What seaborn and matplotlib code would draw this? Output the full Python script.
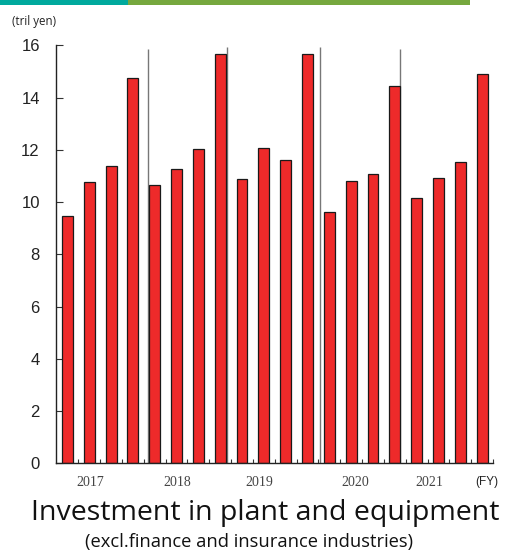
import matplotlib
matplotlib.use("Agg")
import matplotlib.pyplot as plt
import seaborn as sns
import pandas as pd
from matplotlib.patches import Rectangle

# ---- data ----
quarters = [f"{y}Q{q}" for y in [2017, 2018, 2019, 2020, 2021] for q in [1, 2, 3, 4]]
values = [9.45, 10.78, 11.39, 14.76,
          10.65, 11.27, 12.04, 15.66,
          10.87, 12.07, 11.61, 15.68,
          9.63, 10.79, 11.06, 14.45,
          10.14, 10.91, 11.54, 14.89]
year_labels = ["2017", "2018", "2019", "2020", "2021"]
year_label_pos = [1.05, 5.04, 8.77, 13.21, 16.59]
sep_pos = [3.71, 7.32, 11.58, 15.26]
sep_top = [15.85, 15.94, 15.92, 15.85]
yticks = [0, 2, 4, 6, 8, 10, 12, 14, 16]

df = pd.DataFrame({"quarter": quarters, "value": values})

sns.set_theme(style="white")
plt.rcParams["font.family"] = ["Liberation Sans", "DejaVu Sans"]

fig = plt.figure(figsize=(5.06, 5.54), dpi=100)
ax = fig.add_axes([56.5 / 506, 90.7 / 554, 436.5 / 506, 418 / 554])

# separator lines behind bars
for xp, yt in zip(sep_pos, sep_top):
    ax.plot([xp, xp], [0, yt], color="#777777", lw=1.0, zorder=1, solid_capstyle="butt")

sns.barplot(data=df, x="quarter", y="value", ax=ax, color="#EE2A2A",
            width=0.5, edgecolor="#1a1a1a", linewidth=0.9, saturation=1, zorder=2)

ax.set_xlim(-0.5, 19.5)
ax.set_ylim(0, 16)
ax.set_yticks(yticks)
ax.set_yticklabels([str(t) for t in yticks], fontsize=12, color="#222222")
ax.tick_params(axis="y", direction="in", length=5, width=0.8, color="#333333", pad=12, left=True)
ax.set_xticks([i + 0.5 for i in range(20)])
ax.set_xticklabels([])
ax.tick_params(axis="x", direction="in", length=3, width=0.8, color="#333333", bottom=True)
ax.set_xlabel("")
ax.set_ylabel("")
for s in ["top", "right"]:
    ax.spines[s].set_visible(False)
for s in ["left", "bottom"]:
    ax.spines[s].set_color("#222222")
    ax.spines[s].set_linewidth(1.0)
ax.grid(False)

# year labels
for lab, xp in zip(year_labels, year_label_pos):
    ax.text(xp, -0.73, lab, ha="center", va="center", fontsize=10,
            family="Liberation Serif", color="#444444")
ax.text(19.21, -0.73, "(FY)", ha="center", va="center", fontsize=8.5, color="#222222")

# unit label
fig.text(12 / 506, 1 - 21 / 554, "(tril yen)", ha="left", va="center",
         fontsize=8.3, family="Open Sans", color="#222222")

# titles
fig.text(265 / 506, 1 - 520 / 554, "Investment in plant and equipment", ha="center",
         va="baseline", fontsize=20.5, family="Open Sans", color="#111111")
fig.text(249 / 506, 1 - 547 / 554, "(excl.finance and insurance industries)", ha="center",
         va="baseline", fontsize=13.2, family="Open Sans", color="#111111")

# top colour strip
fig.add_artist(Rectangle((0, 1 - 5 / 554), 128 / 506, 5 / 554, transform=fig.transFigure,
                         facecolor="#00A99D", edgecolor="none"))
fig.add_artist(Rectangle((128 / 506, 1 - 5 / 554), 342 / 506, 5 / 554, transform=fig.transFigure,
                         facecolor="#76A83E", edgecolor="none"))

fig.savefig("out.png", dpi=100)
